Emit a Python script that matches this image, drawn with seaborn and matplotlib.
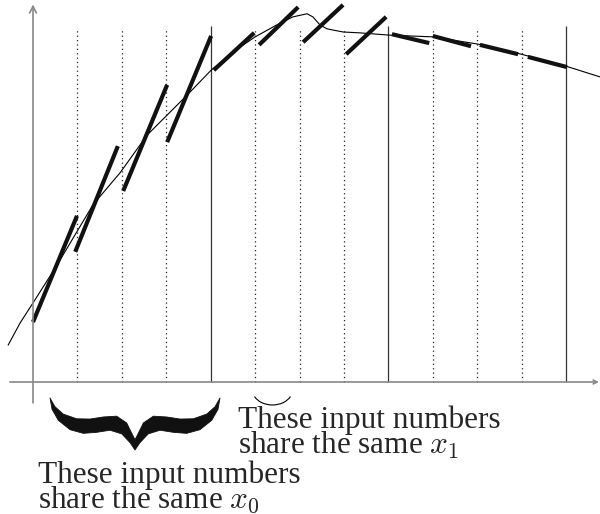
import numpy as np
import pandas as pd
import seaborn as sns
import matplotlib.pyplot as plt
from matplotlib.patches import Polygon, Arc

# smooth function (thin curve), x in grid units
curve_x = [-0.56, -0.29, 0.0, 0.54, 1.01, 1.35, 1.96, 2.57, 3.47, 4.01, 4.50,
           5.00, 5.49, 5.85, 6.17, 6.30, 6.46, 6.62, 6.98, 7.36, 8.01, 9.00,
           10.00, 10.99, 12.00, 12.76]
curve_y = [0.83, 1.33, 1.78, 2.63, 3.42, 3.99, 4.71, 5.56, 6.46, 7.02, 7.43,
           7.77, 8.04, 8.22, 8.29, 8.22, 8.04, 7.95, 7.88, 7.86, 7.81, 7.77,
           7.61, 7.38, 7.11, 6.87]

# thick linear pieces, one per input interval
seg_x0 = [0.00, 0.95, 2.03, 3.02, 4.07, 5.09, 6.08, 7.05, 8.08, 9.00, 10.06, 11.14]
seg_x1 = [0.99, 1.91, 3.02, 4.01, 4.98, 5.97, 6.98, 7.95, 8.92, 9.86, 10.92, 12.02]
seg_y0 = [1.35, 2.93, 4.30, 5.40, 7.02, 7.59, 7.65, 7.38, 7.83, 7.79, 7.59, 7.32]
seg_y1 = [3.74, 5.31, 6.69, 7.79, 7.86, 8.44, 8.49, 8.22, 7.63, 7.56, 7.38, 7.09]

# interval boundaries
dotted_x = [1, 2, 3, 5, 6, 7, 9, 10, 11]
solid_x = [4, 8, 12]

label_x1 = "These input numbers\nshare the same $x_1$"
label_x0 = "These input numbers\nshare the same $x_0$"

sns.set_style("white")
plt.rcParams["font.family"] = ["Liberation Serif", "DejaVu Serif"]
plt.rcParams["mathtext.fontset"] = "cm"

fig = plt.figure(figsize=(6, 5.14), dpi=100)
ax = fig.add_axes([0, 0, 1, 1])
ax.set_xlim(-0.743, 12.764)
ax.set_ylim(-2.972, 8.600)
ax.axis("off")

# grid of interval boundaries
ax.vlines(dotted_x, 0, 7.97, colors="#222222", linewidth=0.9,
          linestyles=(0, (1, 2.5)))
ax.vlines(solid_x, 0, 8.01, colors="#333333", linewidth=0.9)

# axes with arrows
ax.annotate("", xy=(0, 8.50), xytext=(0, -0.47),
            arrowprops=dict(arrowstyle="->", color="#888888", lw=1.2,
                            mutation_scale=12, shrinkA=0, shrinkB=0))
ax.annotate("", xy=(12.74, 0), xytext=(-0.52, 0),
            arrowprops=dict(arrowstyle="->", color="#888888", lw=1.2,
                            mutation_scale=7, shrinkA=0, shrinkB=0))

# thin curve
sns.lineplot(x=curve_x, y=curve_y, sort=False, estimator=None,
             color="black", linewidth=0.8, ax=ax)

# thick pieces
segs = pd.DataFrame({
    "seg": np.repeat(np.arange(len(seg_x0)), 2),
    "x": np.ravel(np.column_stack([seg_x0, seg_x1])),
    "y": np.ravel(np.column_stack([seg_y0, seg_y1])),
})
sns.lineplot(data=segs, x="x", y="y", units="seg", estimator=None,
             sort=False, color="#111111", linewidth=3.0, ax=ax,
             solid_capstyle="butt")

# curly brace under the first four intervals (shape in unit box)
up_u = [0, 0.029, 0.078, 0.157, 0.235, 0.314, 0.392, 0.451, 0.490, 0.5]
up_v = [0, 0.167, 0.310, 0.400, 0.405, 0.365, 0.350, 0.480, 0.740, 0.80]
lo_u = [0.012, 0.049, 0.118, 0.196, 0.275, 0.353, 0.422, 0.471, 0.5]
lo_v = [0.22, 0.43, 0.61, 0.68, 0.66, 0.62, 0.69, 0.86, 1.0]
bx0, bx1, by0, by1 = 0.383, 4.21, -0.36, -1.531
upper = list(zip(up_u, up_v))
lower = list(zip(lo_u, lo_v))
outline = (upper + [(1 - u, v) for u, v in upper[::-1]]
           + [(1 - u, v) for u, v in lower] + lower[::-1])
pts = [(bx0 + u * (bx1 - bx0), by0 + v * (by1 - by0)) for u, v in outline]
ax.add_patch(Polygon(pts, closed=True, facecolor="#111111",
                     edgecolor="#111111", linewidth=0.6, joinstyle="round"))

# small arc under the second group
ax.add_patch(Arc((5.391, -0.18), 0.9, 0.675, theta1=200, theta2=340,
                 color="black", linewidth=0.8))

# multi-line text: anchored on the baseline of its last line
ax.text(4.615, -1.621, label_x1, fontsize=22.5, va="baseline", ha="left",
        linespacing=0.78)
ax.text(0.113, -2.837, label_x0, fontsize=22.5, va="baseline", ha="left",
        linespacing=0.78)

fig.savefig("out.png", dpi=100)
